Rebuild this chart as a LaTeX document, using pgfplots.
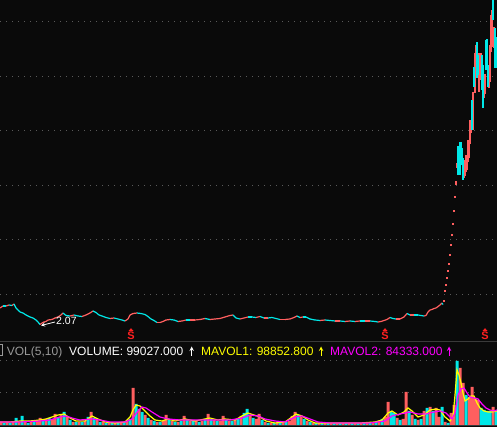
\documentclass[border=0pt]{standalone}
\usepackage{pgfplots}
\pgfplotsset{compat=1.18}
\usepackage{fontspec}
\setmainfont{Liberation Sans}
\definecolor{bg}{HTML}{0A0A0A}
\definecolor{upred}{HTML}{FF5F5F}
\definecolor{dncyan}{HTML}{00E8E8}
\definecolor{gridc}{HTML}{5A5A5A}
\definecolor{sepc}{HTML}{3A3A3A}
\definecolor{sred}{HTML}{FF2020}
\definecolor{mayel}{HTML}{FFFF00}
\definecolor{mamag}{HTML}{FF00FF}
\definecolor{volgray}{HTML}{9A9A9A}

\pgfplotstableread{
x y c
0 34 0
3 36 1
6 36 0
9 37 1
12 36.5 0
14 38 1
16 34 1
18 32 1
20 30 1
23 29 1
26 27 1
30 25 1
33 24 1
36 22 1
38 20 1
40 17.5 0
42 19 0
44 20 0
46 20.5 0
48 22 0
52 22.5 0
55 24 0
58 25 0
61 27 0
63 29 1
66 26.5 1
70 26 0
74 27 1
78 26 1
82 25.5 0
86 27 0
90 29 0
93 31 1
96 29.5 1
99 27 1
102 26 1
106 24.5 1
110 23.5 0
114 24 1
118 23 1
122 22 1
125 21 0
128 23 0
130 27 0
133 28.5 0
137 29 1
141 28.5 1
145 27.5 1
148 25.5 1
151 23 1
154 21.5 1
157 19.5 0
160 19.5 0
163 20.5 0
166 22 0
170 22.5 1
174 22 1
178 20.5 0
182 21 0
186 22 1
190 22 0
195 22 0
200 22.5 0
205 23.5 1
210 22.5 0
215 23 0
220 23.5 0
225 25 0
230 26.5 0
233 27 1
236 24 1
240 23 0
244 24 0
248 25 1
252 25 1
256 24.5 0
260 25.5 1
264 24 0
268 24 1
272 24.5 1
276 23.5 1
280 22.5 0
285 22.5 0
290 23 0
294 24.5 0
297 26 1
300 24.5 0
303 25 1
306 25 1
310 23 1
315 22 1
320 21.5 0
325 22 1
330 21.5 1
335 21 0
340 21 1
345 20.5 0
350 21 1
355 20.5 0
360 21 1
365 21 0
370 21 1
375 20.5 1
378 20 0
381 20.5 0
384 21.5 0
387 22.5 0
390 24.5 1
393 23.5 1
396 23 0
400 23 0
404 25 0
407 28.5 1
410 27 0
414 27 1
418 27 1
421 26.5 1
424 26 0
426 26.5 0
428 30 0
430 32 0
432 32.5 0
434 33.5 0
436 34 0
438 35.5 0
440 37 0
442 39 1
443 37.5 0
}\pricetab

\begin{document}
\begin{tikzpicture}[x=1pt,y=1pt]
\fill[bg] (0,0) rectangle (497,427);
% price panel
\begin{axis}[at={(0,85)}, anchor=south west, scale only axis,
  width=497pt, height=342pt, xmin=0, xmax=497, ymin=0, ymax=342,
  axis line style={draw=none}, xtick=\empty,
  ytick={47,102,156.5,211,265.5,320}, yticklabels={},
  major tick length=0pt, ymajorgrids,
  grid style={gridc, line width=1pt, dash pattern=on 1pt off 5pt},
  clip mode=individual, unbounded coords=jump,
  colormap={rc}{color=(upred) color=(dncyan)},
  point meta min=0, point meta max=1]
\addplot[mesh, point meta=explicit, shader=flat corner, line width=1.2pt]
  table[x=x, y=y, meta=c] {\pricetab};
\addplot[only marks, mark=square*, mark size=0.5pt, color=upred]
  coordinates {(444,41.7)(445,51.7)(446,57.7)(447,64.7)(448,71.7)(449,78.7)
  (450,87.7)(451,97.7)(452,107.7)(453,118.7)(454,131.7)(455,145.7)};
% red (rising) candles: low and high of each day
\addplot[upred, line width=1.8pt, mark=none] coordinates {
(456,157)(456,161)(456,nan)
(457,174)(457,179)(457,nan)
(459,170)(459,187)(459,nan)
(464,164)(464,182)(464,nan)
(465,166)(465,178)(465,nan)
(466,170)(466,187)(466,nan)
(467,172)(467,186)(467,nan)
(468,180)(468,202)(468,nan)
(469,184)(469,202)(469,nan)
(470,198)(470,222)(470,nan)
(471,209)(471,222)(471,nan)
(473,212)(473,250)(473,nan)
(475,249)(475,289)(475,nan)
(476,264)(476,297)(476,nan)
(479,250)(479,289)(479,nan)
(480,262)(480,287)(480,nan)
(481,274)(481,289)(481,nan)
(484,244)(484,267)(484,nan)
(485,248)(485,268)(485,nan)
(489,254)(489,275)(489,nan)
(490,260)(490,297)(490,nan)
(491,290)(491,327)(491,nan)
(492,295)(492,332)(492,nan)
(494,294)(494,315)};
% cyan (falling) candles
\addplot[dncyan, line width=1.8pt, mark=none] coordinates {
(458,167)(458,196)(458,nan)
(460,167)(460,200)(460,nan)
(461,179)(461,200)(461,nan)
(462,177)(462,194)(462,nan)
(463,162)(463,184)(463,nan)
(472,212)(472,242)(472,nan)
(474,255)(474,275)(474,nan)
(477,264)(477,300)(477,nan)
(478,267)(478,287)(478,nan)
(482,252)(482,287)(482,nan)
(483,234)(483,277)(483,nan)
(486,272)(486,302)(486,nan)
(487,272)(487,303)(487,nan)
(488,255)(488,277)(488,nan)
(493,322)(493,342)(493,nan)
(495,274)(495,314)(495,nan)
(496,274)(496,305)};
% annotations
\draw[white, line width=0.8pt, -stealth] (axis cs:55,20) -- (axis cs:41,16.5);
\node[anchor=base west, inner sep=0, text=white, font=\fontsize{10.5}{12}\selectfont]
  at (axis cs:56,17) {2.07};
\node[text=sred, font=\bfseries\fontsize{11}{11}\selectfont, inner sep=0] at (axis cs:131,6.5) {S};
\fill[sred] (axis cs:128.5,11) -- (axis cs:133.5,11) -- (axis cs:131,13.8) -- cycle;
\node[text=sred, font=\bfseries\fontsize{11}{11}\selectfont, inner sep=0] at (axis cs:385,6.5) {S};
\fill[sred] (axis cs:382.5,11) -- (axis cs:387.5,11) -- (axis cs:385,13.8) -- cycle;
\node[text=sred, font=\bfseries\fontsize{11}{11}\selectfont, inner sep=0] at (axis cs:485,6.5) {S};
\fill[sred] (axis cs:482.5,11) -- (axis cs:487.5,11) -- (axis cs:485,13.8) -- cycle;
\end{axis}
% volume panel
\begin{axis}[at={(0,0)}, anchor=south west, scale only axis,
  width=497pt, height=84pt, xmin=0, xmax=497, ymin=-2, ymax=82,
  axis line style={draw=none}, xtick=\empty,
  ytick={32,64}, yticklabels={}, major tick length=0pt, ymajorgrids,
  grid style={gridc, line width=1pt, dash pattern=on 1pt off 5pt},
  clip mode=individual]
\addplot[ybar, bar width=3pt, bar shift=0pt, draw=none, fill=upred] coordinates {
(1,3)(7,3)(13,3)(19,3)(25,3)(31,3)(37,4)(40,7)(46,6)(52,6)(55,11)(61,10)(67,8)(73,3)
(79,3)(85,4)(91,13)(97,5)(103,3)(109,2)(115,2)(121,2)(127,4)(133,37)(139,16)(145,10)
(151,5)(157,3)(163,4)(166,10)(172,4)(178,3)(184,9)(190,4)(196,4)(202,4)(208,11)(214,5)
(220,4)(223,9)(229,4)(235,5)(241,9)(250,10)(256,6)(259,11)(265,3)(271,2)(277,2)(283,2)
(289,4)(292,9)(295,13)(301,8)(307,4)(313,2)(319,2)(325,2)(331,2)(337,2)(343,2)(349,2)
(355,2)(361,2)(367,2)(373,2)(379,4)(385,8)(388,23)(397,7)(403,6)(406,33)(412,10)(418,5)
(424,14)(430,18)(436,17)(439,8)(445,3)(451,12)(454,20)(460,57)(463,42)(469,28)(472,38)
(475,27)(478,25)(493,18)};
\addplot[ybar, bar width=3pt, bar shift=0pt, draw=none, fill=dncyan] coordinates {
(4,2)(10,2)(16,7)(22,9)(28,2)(34,3)(43,4)(49,7)(58,8)(64,13)(70,5)(76,3)(82,3)(88,8)
(94,7)(100,3)(106,2)(112,2)(118,2)(124,3)(130,6)(136,21)(142,13)(148,7)(154,4)(160,3)
(169,6)(175,3)(181,4)(187,5)(193,5)(199,3)(205,6)(211,6)(217,4)(226,5)(232,4)(238,6)
(244,12)(247,16)(253,7)(262,5)(268,2)(274,2)(280,2)(286,3)(298,10)(304,6)(310,3)(316,2)
(322,2)(328,2)(334,2)(340,2)(346,2)(352,2)(358,2)(364,2)(370,2)(376,3)(382,6)(391,14)
(394,12)(400,5)(409,14)(415,6)(421,6)(427,17)(433,14)(442,18)(448,2)(457,64)(466,30)
(481,17)(484,15)(487,14)(490,14)(496,14)};
\addplot[mayel, line width=1.2pt] coordinates {
(0,3)(10,3)(20,4)(30,4)(40,5)(46,6)(52,8)(58,10)(64,11)(70,7)(76,4)(85,4)(92,9)(98,6)
(105,3)(115,2)(125,3)(130,8)(133,15)(136,20)(140,19)(145,14)(150,9)(155,5)(162,4)(168,6)
(175,4)(185,6)(195,4)(205,6)(210,7)(218,5)(225,6)(235,5)(242,9)(248,12)(254,10)(260,8)
(266,4)(275,2)(285,3)(292,8)(296,11)(302,9)(308,5)(315,2)(330,2)(360,2)(375,3)(382,5)
(388,12)(392,14)(398,10)(404,13)(408,17)(412,14)(418,8)(424,10)(430,15)(436,16)(440,15)
(445,8)(450,4)(453,8)(455,30)(457,55)(459,50)(461,42)(463,32)(465,24)(468,26)(471,29)
(474,29)(477,22)(480,17)(484,14)(488,13)(492,13)(497,14)};
\addplot[mamag, line width=1.2pt] coordinates {
(0,3)(20,3)(40,4)(50,5)(60,8)(66,9)(72,7)(80,5)(92,6)(100,5)(110,3)(125,3)(132,6)
(138,14)(142,18)(146,17)(152,13)(160,8)(168,6)(180,5)(200,5)(215,5)(230,5)(242,7)
(250,10)(258,9)(265,6)(275,4)(285,3)(295,8)(302,9)(310,6)(318,3)(330,2)(370,2)(385,4)
(392,9)(400,11)(410,13)(418,11)(426,11)(434,13)(440,14)(446,12)(452,6)(455,12)(458,30)
(461,36)(464,37)(467,32)(470,28)(474,27)(478,26)(482,21)(486,17)(490,15)(494,14)(497,15)};
\end{axis}
% separators and legend text
\draw[sepc, line width=1pt] (0,85) -- (497,85);
\draw[sepc, line width=1.2pt] (0,1.2) -- (497,1.2);
\draw[volgray, line width=0.8pt] (-4,83) rectangle (2.5,72);
\begin{scope}[every node/.style={anchor=base west, inner sep=0, font=\fontsize{12}{14}\selectfont}]
\node[text=volgray] at (6.7,71.3) {VOL(5,10)};
\node[text=white] at (69,71.3) {VOLUME: 99027.000};
\node[text=mayel] at (201,71.3) {MAVOL1: 98852.800};
\node[text=mamag] at (330,71.3) {MAVOL2: 84333.000};
\end{scope}
\draw[white, line width=1pt, -stealth] (191.7,71) -- (191.7,80.5);
\draw[mayel, line width=1pt, -stealth] (321,71) -- (321,80.5);
\draw[mamag, line width=1pt, -stealth] (449,71) -- (449,80.5);
\pgfresetboundingbox
\useasboundingbox (0,0) rectangle (497,427);
\end{tikzpicture}
\end{document}
